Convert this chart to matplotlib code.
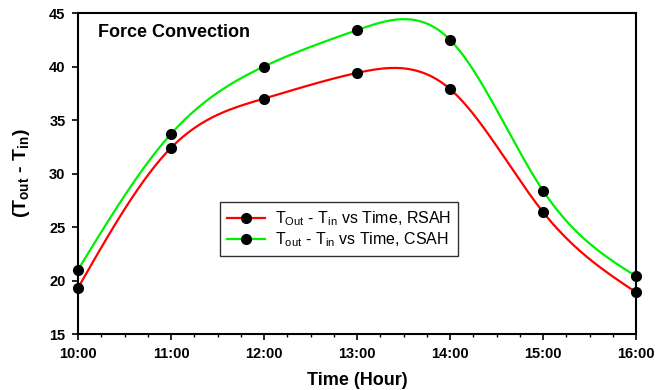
import numpy as np
import matplotlib
matplotlib.use("Agg")
import matplotlib.pyplot as plt
from matplotlib.lines import Line2D
from matplotlib.ticker import MultipleLocator

plt.rcParams['font.family'] = ['Liberation Sans', 'DejaVu Sans']

# hours of the day and temperature rise for each collector
hours = [10, 11, 12, 13, 14, 15, 16]
hour_labels = ["10:00", "11:00", "12:00", "13:00", "14:00", "15:00", "16:00"]
rsah = [19.3, 32.4, 37.0, 39.4, 37.9, 26.4, 18.9]
csah = [21.0, 33.7, 40.0, 43.4, 42.5, 28.4, 20.4]


def natural_spline(x, y, num=400):
    x = np.asarray(x, float)
    y = np.asarray(y, float)
    n = len(x)
    h = np.diff(x)
    A = np.zeros((n, n))
    b = np.zeros(n)
    A[0, 0] = A[-1, -1] = 1.0
    for i in range(1, n - 1):
        A[i, i - 1] = h[i - 1]
        A[i, i] = 2 * (h[i - 1] + h[i])
        A[i, i + 1] = h[i]
        b[i] = 6 * ((y[i + 1] - y[i]) / h[i] - (y[i] - y[i - 1]) / h[i - 1])
    m = np.linalg.solve(A, b)
    xs = np.linspace(x[0], x[-1], num)
    idx = np.clip(np.searchsorted(x, xs) - 1, 0, n - 2)
    x0, x1 = x[idx], x[idx + 1]
    hh = x1 - x0
    t0, t1 = x1 - xs, xs - x0
    ys = (m[idx] * t0 ** 3 + m[idx + 1] * t1 ** 3) / (6 * hh) \
        + (y[idx] / hh - m[idx] * hh / 6) * t0 \
        + (y[idx + 1] / hh - m[idx + 1] * hh / 6) * t1
    return xs, ys


RED = "#ff0000"
GREEN = "#00f000"

fig = plt.figure(figsize=(6.58, 3.90), dpi=100)
ax = fig.add_axes([78 / 658, 56 / 390, 558 / 658, 321 / 390])

for vals, col in [(rsah, RED), (csah, GREEN)]:
    xs, ys = natural_spline(hours, vals)
    ax.plot(xs, ys, color=col, lw=1.6, zorder=2)
    ax.plot(hours, vals, "o", color="black", ms=7, zorder=3, clip_on=False)

ax.set_xlim(10, 16)
ax.set_ylim(15, 45)
ax.set_xticks(hours)
ax.set_xticklabels(hour_labels)
ax.xaxis.set_minor_locator(MultipleLocator(0.25))
ax.yaxis.set_major_locator(MultipleLocator(5))
ax.tick_params(axis="both", which="major", direction="out", length=4, width=1.2,
               labelsize=10.5, pad=5)
ax.tick_params(axis="x", which="minor", direction="out", length=2, width=1)
for lab in ax.get_xticklabels() + ax.get_yticklabels():
    lab.set_fontweight("bold")
for sp in ax.spines.values():
    sp.set_linewidth(1.5)

ax.set_xlabel("Time (Hour)", fontsize=13, fontweight="bold", labelpad=8)
ax.set_ylabel(r"(T$_\mathregular{out}$ - T$_\mathregular{in}$)", fontsize=14,
              fontweight="bold", labelpad=12)

ax.text(0.036, 0.94, "Force Convection", transform=ax.transAxes, fontsize=13,
        fontweight="bold", va="center", ha="left")

handles = [
    Line2D([], [], color=RED, lw=1.6, marker="o", mfc="black", mec="black", ms=7),
    Line2D([], [], color=GREEN, lw=1.6, marker="o", mfc="black", mec="black", ms=7),
]
labels = [r"T$_\mathregular{Out}$ - T$_\mathregular{in}$ vs Time, RSAH",
          r"T$_\mathregular{out}$ - T$_\mathregular{in}$ vs Time, CSAH"]
leg = ax.legend(handles, labels, loc="center", bbox_to_anchor=(0.468, 0.327),
                fontsize=11.5, frameon=True, fancybox=False, handlelength=2.4,
                borderpad=0.45, labelspacing=0.15, handletextpad=0.6)
leg.get_frame().set_edgecolor("black")
leg.get_frame().set_linewidth(1.0)

fig.savefig("out.png", dpi=100)
